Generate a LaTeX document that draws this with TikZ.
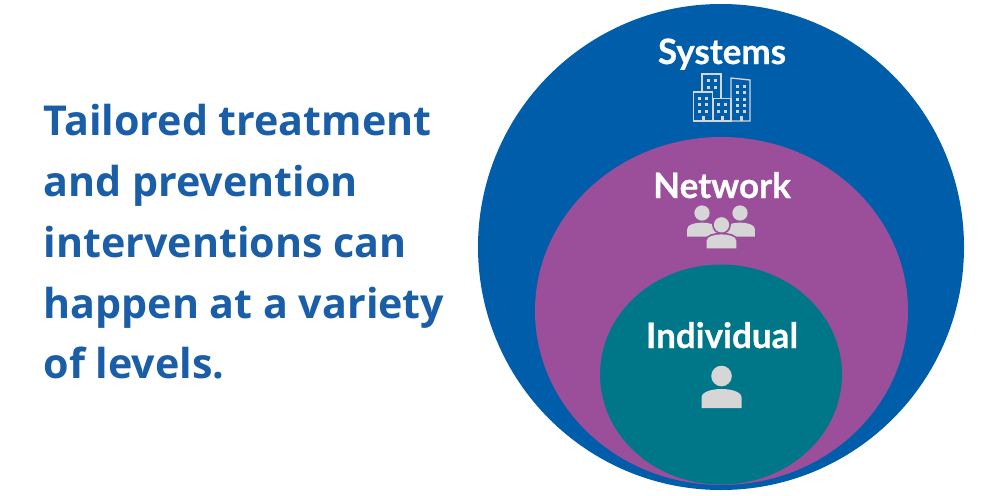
\documentclass[tikz,border=0pt]{standalone}
\usepackage{fontspec}
\setmainfont{Open Sans}
\newfontfamily\labelfont[BoldFeatures={FakeBold=0.6}]{Lato}
\definecolor{sysblue}{HTML}{005DA9}
\definecolor{netpurple}{HTML}{9B4F9B}
\definecolor{indteal}{HTML}{007789}
\definecolor{headblue}{HTML}{1A5EA8}
\definecolor{icongrey}{HTML}{D6D6D6}
\tikzset{
  headline/.style={font=\fontsize{41.2}{41.2}\selectfont\bfseries, text=headblue, anchor=base west, inner sep=0pt},
  levellabel/.style={font=\labelfont\fontsize{35}{35}\selectfont\bfseries, text=white, anchor=base, inner sep=0pt},
  bldg/.style={draw=icongrey, line width=1.3pt, fill=sysblue},
  win/.style={fill=icongrey, draw=none},
  person/.pic={
    \path[fill=icongrey, pic actions] (-20,20.5) -- (-20,10) .. controls (-20,4) and (-9,1.5) .. (0,1.5) .. controls (9,1.5) and (20,4) .. (20,10) -- (20,20.5) -- cycle;
    \path[fill=icongrey, pic actions] (0,-11.5) circle (10.3);
  }
}
\begin{document}
\begin{tikzpicture}[x=1pt,y=-1pt]
\useasboundingbox (0,0) rectangle (1000,495);
\fill[white] (0,0) rectangle (1000,495);
\fill[sysblue] (721,247) ellipse [x radius=243, y radius=243];
\fill[netpurple] (721.5,311) ellipse [x radius=186.5, y radius=174];
\fill[indteal] (721,374.5) ellipse [x radius=121, y radius=110];

\node[headline] (l1) at (43.5,135) {Tailored treatment};
\node[headline] (l2) at (43.5,196) {and prevention};
\node[headline] (l3) at (43.5,257) {interventions can};
\node[headline] (l4) at (43.5,318) {happen at a variety};
\node[headline] (l5) at (43.5,378) {of levels.};

\node[levellabel] (sys) at (722,64) {Systems};
\node[levellabel] (net) at (722,198) {Network};
\node[levellabel] (ind) at (722,348) {Individual};

% buildings
\draw[bldg] (702,121) rectangle (721,74);
\draw[bldg] (731,121) -- (731,78) -- (750,80) -- (750,121) -- cycle;
\draw[bldg] (693.5,121) rectangle (712.5,92);
\draw[bldg] (713,121) rectangle (731,98.5);
\foreach \x in {708.5,715} \foreach \y in {80,87} \fill[win] (\x,\y) +(-1.5,-1.5) rectangle +(1.5,1.5);
\foreach \x in {699.5,706} \foreach \y in {98,104.5,111} \fill[win] (\x,\y) +(-1.5,-1.5) rectangle +(1.5,1.5);
\foreach \x in {718,725} \foreach \y in {104.5,111} \fill[win] (\x,\y) +(-1.5,-1.5) rectangle +(1.5,1.5);
\foreach \x in {737,744} \foreach \y in {86,92.5,99,105,111} \fill[win] (\x,\y) +(-1.5,-1.5) rectangle +(1.5,1.5);
\foreach \x in {703,722,741} \fill[icongrey] (\x-1.5,116) rectangle (\x+1.5,121);

% network people
\pic[scale=0.74] at (702,221.5) {person};
\pic[scale=0.74] at (740,221.5) {person};
\pic[scale=0.74, draw=netpurple, line width=3.5pt] at (721.5,233.3) {person};
\pic[scale=0.74] at (721.5,233.3) {person};

% individual
\pic at (721.5,387.5) {person};
\end{tikzpicture}
\end{document}
